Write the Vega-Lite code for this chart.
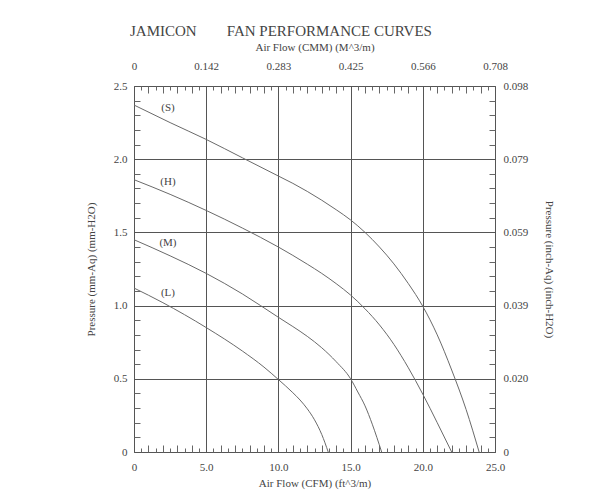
{
  "$schema": "https://vega.github.io/schema/vega-lite/v6.json",
  "width": 361,
  "height": 366,
  "autosize": "none",
  "padding": {"left": 134, "top": 86, "right": 104, "bottom": 50},
  "background": "#ffffff",
  "title": {
    "text": "JAMICON\u00a0\u00a0\u00a0\u00a0\u00a0\u00a0\u00a0\u00a0FAN PERFORMANCE CURVES",
    "anchor": "start",
    "frame": "group",
    "dx": -4,
    "offset": 2,
    "font": "Liberation Serif",
    "fontSize": 15,
    "fontWeight": "normal",
    "color": "#444444"
  },
  "config": {
    "view": {"stroke": "#555555", "strokeWidth": 1},
    "axis": {
      "labelFont": "Liberation Serif",
      "titleFont": "Liberation Serif",
      "labelFontSize": 11,
      "titleFontSize": 11,
      "titleFontWeight": "normal",
      "labelColor": "#444444",
      "titleColor": "#444444",
      "domain": false,
      "tickColor": "#666666",
      "labelFlush": false
    }
  },
  "datasets": {
    "curves": [
      {"fan": "S", "cfm": 0, "p": 2.37},
      {"fan": "S", "cfm": 2.5, "p": 2.25},
      {"fan": "S", "cfm": 5, "p": 2.135},
      {"fan": "S", "cfm": 7.5, "p": 2.01},
      {"fan": "S", "cfm": 10, "p": 1.885},
      {"fan": "S", "cfm": 11, "p": 1.835},
      {"fan": "S", "cfm": 12, "p": 1.78},
      {"fan": "S", "cfm": 13, "p": 1.72},
      {"fan": "S", "cfm": 14, "p": 1.655},
      {"fan": "S", "cfm": 15, "p": 1.585},
      {"fan": "S", "cfm": 16, "p": 1.5},
      {"fan": "S", "cfm": 17, "p": 1.4},
      {"fan": "S", "cfm": 18, "p": 1.285},
      {"fan": "S", "cfm": 19, "p": 1.15},
      {"fan": "S", "cfm": 20, "p": 0.995},
      {"fan": "S", "cfm": 21, "p": 0.8},
      {"fan": "S", "cfm": 22, "p": 0.56},
      {"fan": "S", "cfm": 23, "p": 0.29},
      {"fan": "S", "cfm": 23.9, "p": 0},
      {"fan": "H", "cfm": 0, "p": 1.86},
      {"fan": "H", "cfm": 2.5, "p": 1.76},
      {"fan": "H", "cfm": 5, "p": 1.65},
      {"fan": "H", "cfm": 7.5, "p": 1.53},
      {"fan": "H", "cfm": 10, "p": 1.4},
      {"fan": "H", "cfm": 11, "p": 1.343},
      {"fan": "H", "cfm": 12, "p": 1.283},
      {"fan": "H", "cfm": 13, "p": 1.22},
      {"fan": "H", "cfm": 14, "p": 1.15},
      {"fan": "H", "cfm": 15, "p": 1.072},
      {"fan": "H", "cfm": 16, "p": 0.978},
      {"fan": "H", "cfm": 17, "p": 0.868},
      {"fan": "H", "cfm": 18, "p": 0.735},
      {"fan": "H", "cfm": 19, "p": 0.575},
      {"fan": "H", "cfm": 20, "p": 0.395},
      {"fan": "H", "cfm": 21, "p": 0.2},
      {"fan": "H", "cfm": 22, "p": 0},
      {"fan": "M", "cfm": 0, "p": 1.45},
      {"fan": "M", "cfm": 2.5, "p": 1.34},
      {"fan": "M", "cfm": 5, "p": 1.22},
      {"fan": "M", "cfm": 7.5, "p": 1.08},
      {"fan": "M", "cfm": 10, "p": 0.92},
      {"fan": "M", "cfm": 11, "p": 0.857},
      {"fan": "M", "cfm": 12, "p": 0.79},
      {"fan": "M", "cfm": 13, "p": 0.712},
      {"fan": "M", "cfm": 14, "p": 0.617},
      {"fan": "M", "cfm": 15, "p": 0.5},
      {"fan": "M", "cfm": 15.5, "p": 0.41},
      {"fan": "M", "cfm": 16, "p": 0.315},
      {"fan": "M", "cfm": 16.5, "p": 0.19},
      {"fan": "M", "cfm": 17.15, "p": 0},
      {"fan": "L", "cfm": 0, "p": 1.12},
      {"fan": "L", "cfm": 2, "p": 1.02},
      {"fan": "L", "cfm": 5, "p": 0.85},
      {"fan": "L", "cfm": 7.5, "p": 0.69},
      {"fan": "L", "cfm": 9, "p": 0.58},
      {"fan": "L", "cfm": 10, "p": 0.495},
      {"fan": "L", "cfm": 11, "p": 0.405},
      {"fan": "L", "cfm": 11.5, "p": 0.355},
      {"fan": "L", "cfm": 12, "p": 0.295},
      {"fan": "L", "cfm": 12.5, "p": 0.22},
      {"fan": "L", "cfm": 13, "p": 0.12},
      {"fan": "L", "cfm": 13.45, "p": 0}
    ],
    "labels": [
      {"fan": "S", "txt": "(S)", "cfm": 2.35, "p": 2.35},
      {"fan": "H", "txt": "(H)", "cfm": 2.35, "p": 1.846},
      {"fan": "M", "txt": "(M)", "cfm": 2.35, "p": 1.43},
      {"fan": "L", "txt": "(L)", "cfm": 2.35, "p": 1.086}
    ]
  },
  "resolve": {"axis": {"x": "independent", "y": "independent"}},
  "layer": [
    {
      "data": {"name": "curves"},
      "transform": [{"filter": "datum.fan == 'S' || datum.fan == 'H'"}],
      "mark": {"type": "line", "color": "#6a6a6a", "strokeWidth": 1, "interpolate": "monotone"},
      "encoding": {
        "x": {"field": "cfm", "type": "quantitative",
              "scale": {"domain": [0, 25], "nice": false, "zero": false},
              "axis": {"orient": "bottom", "values": [0, 5, 10, 15, 20, 25],
                       "labelExpr": "datum.value == 0 ? '0' : format(datum.value, '.1f')",
                       "ticks": false, "grid": true, "gridColor": "#555555", "gridOpacity": 1,
                       "labelPadding": 9, "title": "Air Flow (CFM) (ft^3/m)", "titlePadding": 5}},
        "y": {"field": "p", "type": "quantitative",
              "scale": {"domain": [0, 2.5], "nice": false, "zero": false},
              "axis": {"orient": "left", "values": [0, 0.5, 1, 1.5, 2, 2.5],
                       "labelExpr": "datum.value == 0 ? '0' : format(datum.value, '.1f')",
                       "ticks": false, "grid": true, "gridColor": "#555555", "gridOpacity": 1,
                       "labelPadding": 7, "title": "Pressure (mm-Aq) (mm-H2O)", "titlePadding": 17}},
        "detail": {"field": "fan"}
      }
    },
    {
      "data": {"name": "labels"},
      "transform": [{"filter": "datum.fan == 'S' || datum.fan == 'H'"}],
      "mark": {"type": "text", "font": "Liberation Serif", "fontSize": 11, "color": "#444444"},
      "encoding": {
        "x": {"field": "cfm", "type": "quantitative",
              "axis": {"orient": "top", "values": [0, 5, 10, 15, 20, 25],
                       "labelExpr": "datum.value == 0 ? '0' : format(datum.value * 0.0283168, '.3f')",
                       "ticks": false, "grid": false, "labelPadding": 15,
                       "title": "Air Flow (CMM) (M^3/m)", "titlePadding": 8}},
        "y": {"field": "p", "type": "quantitative",
              "axis": {"orient": "right", "values": [0, 0.5, 1, 1.5, 2, 2.5],
                       "labelExpr": "datum.value == 0 ? '0' : format(datum.value / 25.4, '.3f')",
                       "ticks": false, "grid": false, "labelPadding": 8,
                       "title": "Pressure (inch-Aq) (inch-H2O)", "titlePadding": 16}},
        "text": {"field": "txt"}
      }
    },
    {
      "data": {"name": "curves"},
      "transform": [{"filter": "datum.fan == 'M' || datum.fan == 'L'"}],
      "mark": {"type": "line", "color": "#6a6a6a", "strokeWidth": 1, "interpolate": "monotone"},
      "encoding": {
        "x": {"field": "cfm", "type": "quantitative",
              "axis": {"orient": "bottom", "values": [0.5, 1, 1.5, 2, 2.5, 3, 3.5, 4, 4.5, 5.5, 6, 6.5, 7, 7.5, 8, 8.5, 9, 9.5, 10.5, 11, 11.5, 12, 12.5, 13, 13.5, 14, 14.5, 15.5, 16, 16.5, 17, 17.5, 18, 18.5, 19, 19.5, 20.5, 21, 21.5, 22, 22.5, 23, 23.5, 24, 24.5],
                       "labels": false, "grid": false, "title": null,
                       "tickSize": {"condition": {"test": "datum.value % 1 == 0", "value": -7}, "value": -4}}},
        "y": {"field": "p", "type": "quantitative",
              "axis": {"orient": "left", "values": [0.1, 0.2, 0.3, 0.4, 0.6, 0.7, 0.8, 0.9, 1.1, 1.2, 1.3, 1.4, 1.6, 1.7, 1.8, 1.9, 2.1, 2.2, 2.3, 2.4],
                       "labels": false, "grid": false, "title": null, "tickSize": -6}},
        "detail": {"field": "fan"}
      }
    },
    {
      "data": {"name": "labels"},
      "transform": [{"filter": "datum.fan == 'M' || datum.fan == 'L'"}],
      "mark": {"type": "text", "font": "Liberation Serif", "fontSize": 11, "color": "#444444"},
      "encoding": {
        "x": {"field": "cfm", "type": "quantitative",
              "axis": {"orient": "top", "values": [0.5, 1, 1.5, 2, 2.5, 3, 3.5, 4, 4.5, 5.5, 6, 6.5, 7, 7.5, 8, 8.5, 9, 9.5, 10.5, 11, 11.5, 12, 12.5, 13, 13.5, 14, 14.5, 15.5, 16, 16.5, 17, 17.5, 18, 18.5, 19, 19.5, 20.5, 21, 21.5, 22, 22.5, 23, 23.5, 24, 24.5],
                       "labels": false, "grid": false, "title": null,
                       "tickSize": {"condition": {"test": "datum.value % 1 == 0", "value": -7}, "value": -4}}},
        "y": {"field": "p", "type": "quantitative",
              "axis": {"orient": "right", "values": [0.1, 0.2, 0.3, 0.4, 0.6, 0.7, 0.8, 0.9, 1.1, 1.2, 1.3, 1.4, 1.6, 1.7, 1.8, 1.9, 2.1, 2.2, 2.3, 2.4],
                       "labels": false, "grid": false, "title": null, "tickSize": -6}},
        "text": {"field": "txt"}
      }
    }
  ]
}
